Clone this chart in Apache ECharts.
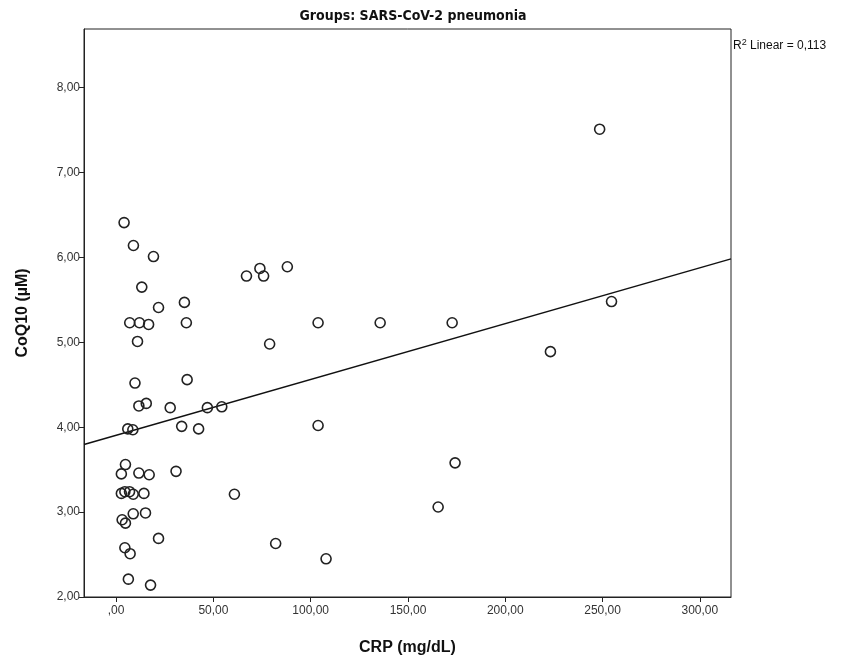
<!DOCTYPE html>
<html><head><meta charset="utf-8">
<script src="https://cdn.jsdelivr.net/npm/echarts@6/dist/echarts.min.js"></script>
<style>html,body{margin:0;padding:0;background:#fff}#c{width:848px;height:661px}</style>
</head><body><div id="c"></div>
<script>
// CRP (mg/dL) values
const crp = [4.1, 8.9, 19.2, 13.2, 21.8, 35.1, 7.0, 12.0, 16.7, 36.1, 11.0, 67.0, 73.9, 75.8, 88.0, 78.9, 9.7, 36.5,
  103.8, 135.7, 103.8, 54.3, 11.7, 15.5, 27.8, 46.9, 6.0, 8.6, 33.7, 42.4, 4.8, 2.7, 11.7, 17.0, 30.8, 2.7, 4.5, 6.9,
  8.8, 14.3, 60.8, 3.1, 4.8, 8.8, 15.1, 21.8, 4.5, 7.2, 6.3, 17.7, 82.0, 107.9, 172.7, 174.2, 165.5, 223.2, 248.5, 254.6];
// CoQ10 (µM) values
const coq10 = [6.41, 6.14, 6.01, 5.65, 5.41, 5.47, 5.23, 5.23, 5.21, 5.23, 5.01, 5.78, 5.87, 5.78, 5.89, 4.98, 4.52, 4.56,
  5.23, 5.23, 4.02, 4.24, 4.25, 4.28, 4.23, 4.23, 3.98, 3.97, 4.01, 3.98, 3.56, 3.45, 3.46, 3.44, 3.48, 3.22, 3.24, 3.24,
  3.21, 3.22, 3.21, 2.91, 2.87, 2.98, 2.99, 2.69, 2.58, 2.51, 2.21, 2.14, 2.63, 2.45, 5.23, 3.58, 3.06, 4.89, 7.51, 5.48];
const xTicks = [0, 50, 100, 150, 200, 250, 300];
const yTicks = [2, 3, 4, 5, 6, 7, 8];
const titleText = 'Groups: SARS-CoV-2 pneumonia';
const xName = 'CRP (mg/dL)';
const yName = 'CoQ10 (µM)';
const r2Text = '0,113';

const X_MIN = -16.5, X_MAX = 316, Y_MIN = 2, Y_MAX = 8.69;

// least squares fit
const n = crp.length;
const mx = crp.reduce((a, b) => a + b, 0) / n;
const my = coq10.reduce((a, b) => a + b, 0) / n;
let sxy = 0, sxx = 0;
for (let i = 0; i < n; i++) { sxy += (crp[i] - mx) * (coq10[i] - my); sxx += (crp[i] - mx) ** 2; }
const slope = sxy / sxx, intercept = my - slope * mx;

const pts = crp.map((x, i) => [x, coq10[i]]);
const fmt = v => { let s = v.toFixed(2).replace('.', ','); return s.replace(/^0,/, ','); };
const FONT = 'Liberation Sans, Arial, sans-serif';

const chart = echarts.init(document.getElementById('c'), null, { renderer: 'canvas' });
chart.setOption({
  animation: false,
  backgroundColor: '#fff',
  title: {
    text: titleText, left: 408, top: 4, textAlign: 'center',
    textStyle: { fontFamily: 'Liberation Sans Narrow, DejaVu Sans Condensed, sans-serif', fontSize: 14, fontWeight: 'bold', color: '#111' }
  },
  grid: { left: 84, top: 29, right: 117, bottom: 63, show: true, borderColor: '#222', borderWidth: 1, backgroundColor: 'transparent' },
  xAxis: {
    type: 'value', min: X_MIN, max: X_MAX,
    name: xName, nameLocation: 'middle', nameGap: 43,
    nameTextStyle: { fontFamily: FONT, fontSize: 16, fontWeight: 'bold', color: '#111' },
    axisLine: { show: true, onZero: false, lineStyle: { color: '#222', width: 1 } },
    axisTick: { show: true, length: 5, inside: false, customValues: xTicks, lineStyle: { color: '#222' } },
    axisLabel: { customValues: xTicks, formatter: fmt, margin: 8, fontFamily: FONT, fontSize: 12, color: '#333' },
    splitLine: { show: false }
  },
  yAxis: {
    type: 'value', min: Y_MIN, max: Y_MAX,
    name: yName, nameLocation: 'middle', nameGap: 53, nameRotate: 90,
    nameTextStyle: { fontFamily: FONT, fontSize: 16, fontWeight: 'bold', color: '#111' },
    axisLine: { show: true, onZero: false, lineStyle: { color: '#222', width: 1 } },
    axisTick: { show: true, length: 5, inside: false, customValues: yTicks, lineStyle: { color: '#222' } },
    axisLabel: { customValues: yTicks, formatter: fmt, margin: 4, fontFamily: FONT, fontSize: 12, color: '#333' },
    splitLine: { show: false }
  },
  graphic: [{
    type: 'text', left: 733, top: 38,
    style: {
      text: 'R{s|2} Linear = ' + r2Text,
      rich: { s: { fontSize: 9, verticalAlign: 'top', padding: [0, 0, 6, 0], fontFamily: FONT, fill: '#111' } },
      fontFamily: FONT, fontSize: 12, fill: '#111'
    }
  }],
  series: [
    {
      type: 'line', data: [[X_MIN, intercept + slope * X_MIN], [X_MAX, intercept + slope * X_MAX]],
      symbol: 'none', lineStyle: { color: '#111', width: 1.5 }, silent: true, z: 1
    },
    {
      type: 'scatter', data: pts, symbol: 'circle', symbolSize: 10,
      itemStyle: { color: 'rgba(255,255,255,0)', borderColor: '#222', borderWidth: 1.6, opacity: 1 }, z: 2
    }
  ]
});
</script></body></html>
